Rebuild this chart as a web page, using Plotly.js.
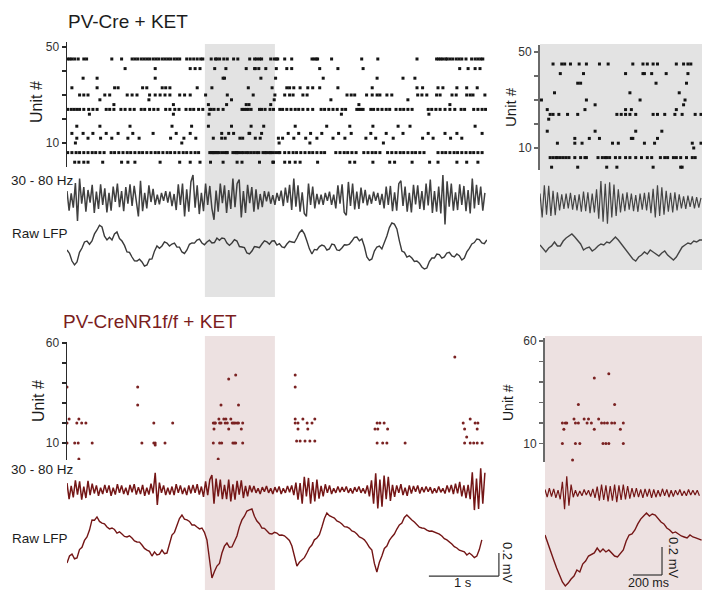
<!DOCTYPE html>
<html><head><meta charset="utf-8">
<script src="https://cdn.plot.ly/plotly-3.0.1.min.js"></script>
<style>html,body{margin:0;padding:0;background:#fff}#chart{width:702px;height:590px}</style>
</head><body><div id="chart"></div>
<script>
// ---------------- DATA ----------------
// PV-Cre + KET : spike raster (unit number, spike times in s)
const pvUnits = [45,41,37,33,30,28,26,24,22,17,14,12,10,6,2];
const pvSpikes = [
 [0.04,0.07,0.10,0.14,0.19,0.27,0.31,0.67,0.81,0.96,1.00,1.04,1.09,1.13,1.17,1.21,1.26,1.30,1.34,1.39,1.43,1.47,1.51,1.56,1.60,1.64,1.74,1.79,1.84,1.89,1.94,1.97,2.09,2.15,2.17,2.21,2.27,2.32,2.41,2.47,2.64,2.71,2.74,2.78,2.81,2.94,2.99,3.02,3.04,3.14,3.24,3.53,3.56,3.59,3.61,3.81,4.24,4.47,5.03,5.31,5.34,5.37,5.40,5.44,5.46,5.50,5.54,5.59,5.63,5.67,5.73,5.81,5.86,5.90,5.94,5.97],
 [0.86,1.29,1.79,1.86,1.93,2.14,2.30,2.59,2.71,2.72,2.77,2.87,3.02,3.17,3.24,3.64,3.90,4.26,5.64,5.76,5.86,5.93],
 [0.26,0.46,1.29,2.26,2.28,2.80,3.01,3.69,4.46,4.83,5.00],
 [0.10,0.46,0.71,0.76,1.11,1.17,1.39,1.44,1.50,1.89,2.10,2.62,2.96,3.17,3.21,3.27,3.36,3.47,3.54,3.64,3.90,4.39,5.03,5.11,5.33,5.40,5.60,5.74,5.89],
 [0.21,0.27,0.33,0.57,0.64,0.89,0.96,1.03,1.21,1.29,1.36,1.43,1.50,1.64,1.71,1.79,2.01,2.32,2.69,3.00,3.14,3.21,3.26,3.40,3.46,4.03,4.09,4.14,4.31,4.39,4.46,4.50,4.60,4.67,5.04,5.10,5.17,5.31,5.36,5.53,5.59,5.74,5.79,5.83,6.00],
 [0.50,1.20,2.38,2.99,3.80,4.90],
 [0.70,1.55,2.05,2.31,2.59,2.63,2.94,4.20,5.50],
 [0.04,0.09,0.13,0.17,0.21,0.27,0.34,0.40,0.46,0.59,0.64,0.70,0.80,0.86,0.93,0.99,1.09,1.14,1.21,1.27,1.33,1.44,1.50,1.57,1.63,1.73,1.79,1.84,1.91,1.97,2.07,2.09,2.13,2.19,2.26,2.53,2.56,2.59,2.62,2.66,2.78,2.81,2.86,2.93,2.98,3.07,3.11,3.17,3.23,3.29,3.34,3.40,3.47,3.54,3.66,3.71,3.77,3.83,3.89,3.96,4.01,4.17,4.20,4.23,4.26,4.37,4.41,4.47,4.53,4.59,4.64,4.73,4.79,4.84,4.90,4.96,5.19,5.24,5.30,5.36,5.43,5.50,5.57,5.66,5.71,5.84,5.90,5.96,6.01],
 [0.35,1.55,2.06,3.95,5.20],
 [0.17,0.50,0.93,1.53,1.81,2.05,2.38,2.66,2.84,3.29,3.74,4.07,4.40,4.76,4.93,5.86],
 [0.10,0.26,0.40,0.59,0.76,0.97,1.26,1.59,1.79,2.24,2.34,2.41,2.63,2.64,2.81,3.19,3.34,3.51,3.67,3.91,4.09,4.37,4.59,4.83,5.19,5.43,5.60,5.96],
 [0.17,0.33,0.51,0.67,0.90,1.06,1.51,1.70,1.87,2.12,2.24,2.29,2.50,2.54,2.72,2.79,3.05,3.11,3.27,3.44,3.60,3.83,4.00,4.30,4.44,4.69,5.11,5.26,5.51,5.67],
 [0.15,1.67,3.06,3.50,4.55],
 [0.04,0.10,0.16,0.21,0.27,0.33,0.39,0.44,0.50,0.56,0.66,0.71,0.77,0.83,0.89,0.94,1.00,1.06,1.11,1.17,1.23,1.29,1.34,1.40,1.46,1.51,1.57,1.63,1.69,1.74,1.80,1.86,1.91,2.07,2.09,2.11,2.12,2.14,2.16,2.18,2.20,2.24,2.28,2.31,2.32,2.40,2.43,2.45,2.46,2.48,2.52,2.55,2.59,2.62,2.66,2.70,2.74,2.77,2.83,2.86,2.88,2.92,2.94,2.97,3.01,3.05,3.07,3.14,3.20,3.26,3.31,3.37,3.43,3.49,3.54,3.60,3.66,3.71,3.87,3.93,3.99,4.04,4.10,4.16,4.27,4.33,4.39,4.44,4.50,4.61,4.67,4.73,4.79,4.84,4.90,4.96,5.01,5.07,5.13,5.33,5.39,5.44,5.50,5.56,5.61,5.67,5.73,5.79,5.84,5.90,5.96],
 [0.14,0.20,0.27,0.33,0.54,0.81,0.90,1.00,1.36,1.64,1.79,1.93,2.08,2.26,2.46,2.53,2.78,2.97,2.98,3.14,3.21,3.29,3.36,3.61,4.07,4.14,4.40,4.64,4.71,4.96,5.21,5.33,5.60,5.74,5.90]
];
// PV-Cre + KET : 30-80 Hz band (uV), whole record, step 0.03 s
const pvGammaStart = 0.03, pvGammaStep = 0.03;
const pvGamma = [60,-110,40,-85,130,-200,170,-50,95,-120,70,-40,115,-130,55,-95,120,-60,85,-125,
 45,-110,100,-35,125,-80,60,-115,95,-50,120,-70,105,-40,-160,150,-115,45,-90,110,
 -35,80,-60,30,-55,45,-25,60,-40,55,-70,35,-105,120,-60,125,-160,75,-120,140,
 200,-85,110,-140,45,-115,125,-60,105,-90,-190,65,-120,125,-45,110,-130,70,-95,170,
 -80,125,160,-170,60,-130,115,-45,95,-120,75,-100,35,-80,60,-30,55,-50,25,-60,
 45,-25,65,-70,90,-40,115,-105,170,-75,110,-120,50,-135,-160,125,-60,100,-90,35,
 -55,30,-60,45,-25,55,-60,30,-90,110,-50,120,-125,-150,140,-70,125,-100,55,-95,
 90,-45,70,-65,30,-50,55,-25,45,-60,35,-90,100,-60,105,-115,50,-110,125,150,
 -70,100,-120,45,-125,115,-55,110,-95,60,-105,125,-65,160,-130,60,-120,100,-135,200,
 -230,145,-75,125,-110,50,-105,120,-60,105,-115,70,-135,170,-90,115,-60,100,-110,45];
// PV-Cre + KET : raw LFP (uV), whole record, step 0.0357 s
const pvLfpStart = 0.03, pvLfpStep = 0.0357;
const pvLfp = [0,-30, -96,-130, -104,-20, 17,70, 78,50, 78,140, 174,215, 200,120, 87,110, 87,140,
 157,100, 78,40, -17,-20, -61,-95, -96,-80, -104,-140, -130,-80, -78,-10, 35,15, 35,70,
 61,35, 52,60, 26,25, -17,-30, 0,50, 61,60, 87,95, 61,45, 70,85, 61,65,
 104,85, 104,100, 61,40, 61,90, 78,30, 26,20, -26,-35, -9,30, 26,20, 52,80,
 70,50, 78,80, 43,55, 26,20, 52,75, 70,65, 104,150, 174,140, 78,10, -35,5,
 0,30, 43,35, 0,10, 52,45, 0,-5, 17,45, 43,50, 78,110, 113,80, 96,30,
 -61,-90, -78,-10, 26,35, 9,60, 122,195, 235,225, 183,80, -9,-20, -61,-50, -70,-100,
 -96,-115, -148,-165, -157,-100, -70,-70, -35,-40, -70,-60, -26,-20, -52,-60, -35,-50, -87,-70,
 -17,15, 52,65, 96,90, 61,55, 87];
// PV-Cre + KET : zoomed 2-3 s traces
const pvGammaZoomStart = 2.0, pvGammaZoomStep = 0.015;
const pvGammaZoom = [60,-110,120,-90,115,-100,80,-95,70,-60,55,-50,60,-45,65,-55,50,-60,55,-70,
 75,-65,70,-80,60,-75,90,-120,150,-140,130,-155,140,-110,125,-100,90,-75,60,-65,
 70,-55,60,-65,50,-70,60,-55,65,-60,70,-80,95,-110,120,-100,105,-90,80,-70,
 65,-75,70,-60,55,-45,40,-50,45,-35,40,-45,35,-40,30];
const pvLfpZoomStart = 2.0, pvLfpZoomStep = 0.02;
const pvLfpZoom = [36,7,-14,14,29,57,29,29,64,86,100,114,93,71,43,0,14,21,-7,7,
 29,43,36,57,50,71,93,71,43,14,-14,-43,-64,-79,-50,-36,-14,-29,0,-14,
 -29,-43,-21,-7,-36,-57,-71,-50,-14,21,36,50,43,64,57,71,71];

// PV-CreNR1f/f + KET
const nrUnits = [53,44,42,38,29,22,20,17,13,11,10,9,2];
const nrSpikes = [
 [5.57],
 [2.44,3.29],
 [2.34],
 [0.03,1.04,3.29],
 [1.04,2.23,2.48],
 [0.06,0.20,2.20,2.27,2.30,2.37,3.29,3.40,3.57,5.79],
 [0.03,0.17,0.24,0.30,1.27,1.54,2.12,2.14,2.15,2.21,2.23,2.29,2.32,2.39,2.41,2.43,2.46,2.48,2.54,3.29,3.33,3.46,3.53,4.46,4.50,4.56,5.69,5.86,5.90],
 [2.13,2.34,2.52,3.33,3.47,4.43,4.47,4.61,5.71,5.89],
 [5.74],
 [3.31,3.36,3.43,3.50,3.57],
 [0.03,0.14,0.19,0.39,1.10,1.27,1.29,1.43,2.12,2.21,2.24,2.40,2.42,2.44,2.54,4.46,4.54,4.60,4.86,5.71,5.79,5.84,5.89,5.96],
 [1.29],
 [0.20,2.19]
];
const nrGammaStart = 0.03, nrGammaStep = 0.03;
const nrGamma = [60,-80,35,-65,85,-40,75,-85,30,-70,80,-45,55,-30,40,-50,20,-35,45,-25,
 40,-50,20,-40,50,-25,40,-35,20,-45,45,-20,50,-40,25,-35,45,-50,20,-40,
 55,-30,150,-130,65,-25,40,-45,20,-40,30,-45,50,-25,40,-35,20,-45,40,-30,
 45,-25,50,-40,30,-60,75,-45,90,130,-120,100,-55,90,-80,45,-80,90,-100,50,
 -85,80,-40,85,-70,35,-55,40,-20,35,-25,15,-35,25,-15,35,-25,15,-35,25,
 -20,30,-35,15,-25,35,-20,40,-45,65,-85,60,-120,115,-55,105,-120,70,-100,90,
 -75,35,-55,50,-25,40,-35,15,-25,30,-20,25,-15,30,-25,15,-30,25,-15,30,
 -25,15,-30,40,-55,85,-120,145,-160,90,-145,125,-80,115,-95,45,-60,40,-25,50,
 -45,20,-50,40,-30,35,-15,40,-30,25,-20,30,-15,25,-30,15,-25,30,-20,15,
 -30,40,-20,45,-35,55,-30,70,-55,40,-70,45,-80,155,-175,100,-165,190,-120,150];
const nrLfpStart = 0.03, nrLfpStep = 0.0357;
const nrLfp = [-157,-95, -78,-120, -113,-40, -20,40, 70,130, 218,215, 244,205, 191,185, 157,140, 148,135,
 104,115, 96,75, 70,80, 61,35, 26,25, 0,-30, -44,-55, -96,-60, -87,-80, -44,-75,
 -70,20, 87,110, 174,230, 261,225, 218,205, 174,175, 157,140, 148,110, 44,-140, -287,-230,
 -183,-160, -70,-10, 17,-20, -17,30, 78,160, 218,250, 296,305, 313,250, 209,185, 148,145,
 122,100, 96,110, 104,85, 87,80, 61,40, -9,-110, -183,-150, -130,-110, -70,-25, 0,45,
 61,90, 157,230, 278,255, 244,235, 209,200, 183,160, 157,145, 122,115, 96,70, 61,45,
 17,-20, -44,-160, -235,-150, -96,-30, -9,40, 70,95, 139,175, 191,240, 261,235, 218,200,
 174,155, 148,145, 130,120, 122,115, 104,95, 78,55, 44,30, 9,-15, -26,-45, -52,-60,
 -87,-70, -87,-110, -96,-40, 44];
const nrGammaZoomStart = 2.0, nrGammaZoomStep = 0.015;
const nrGammaZoom = [25,-30,35,-25,30,-35,20,-45,80,-115,120,-90,60,-30,20,-25,15,-20,25,-15,
 20,-25,30,-35,45,-55,60,-50,55,-60,50,-55,60,-65,55,-50,60,-45,50,-40,
 35,-30,35,-30,25,-35,30,-25,30,-35,25,-30,20,-25,30,-20,25,-30,20,-25,
 20,-15,25,-20,15,-20,25,-15,20,-15,20,-20];
const nrLfpZoomStart = 2.0, nrLfpZoomStep = 0.02;
const nrLfpZoom = [107,43,-14,-71,-129,-186,-228,-257,-236,-207,-186,-143,-157,-100,-79,-43,-29,-21,14,-14,
 7,-14,0,-21,-43,-50,-21,0,64,107,114,143,186,221,243,264,243,257,250,221,
 200,186,157,143,121,129,114,100,93,86,107,93,86,79,71];

const shadeWindow = [2.0, 3.0];      // s, highlighted window
const scaleTimeLong = 1.0;           // s
const scaleTimeShort = 0.2;          // s
const scaleVolt = 200;               // uV

// ---------------- DRAWING ----------------
const W = 702, H = 590;
const PX = p => p / W;
const PY = p => 1 - p / H;
const FONT = '"Liberation Sans", Arial, Helvetica, sans-serif';
const DARK = '#1c1c1c';
const RED = '#741616';
const RED_DOT = '#7a2222';

function raster(units, spikes, xa, ya, color, size, symbol) {
  const x = [], y = [];
  units.forEach((u, i) => spikes[i].forEach(t => { x.push(t); y.push(u); }));
  return {type: 'scatter', mode: 'markers', x, y, xaxis: xa, yaxis: ya, hoverinfo: 'skip',
    marker: {color, size, symbol, line: {width: 0}}};
}
function trace(y, x0, dx, xa, ya, color, width) {
  return {type: 'scatter', mode: 'lines', y, x0, dx, xaxis: xa, yaxis: ya, hoverinfo: 'skip',
    line: {color, width}};
}

const data = [
  raster(pvUnits, pvSpikes, 'x', 'y', '#141414', 3, 'square'),
  trace(pvGamma, pvGammaStart, pvGammaStep, 'x', 'y2', '#404040', 1.5),
  trace(pvLfp, pvLfpStart, pvLfpStep, 'x', 'y3', '#3a3a3a', 1.4),
  raster(pvUnits, pvSpikes, 'x2', 'y4', '#141414', 3, 'square'),
  trace(pvGammaZoom, pvGammaZoomStart, pvGammaZoomStep, 'x2', 'y5', '#444444', 1.2),
  trace(pvLfpZoom, pvLfpZoomStart, pvLfpZoomStep, 'x2', 'y6', '#444444', 1.4),
  raster(nrUnits, nrSpikes, 'x3', 'y7', RED_DOT, 3, 'circle'),
  trace(nrGamma, nrGammaStart, nrGammaStep, 'x3', 'y8', RED, 1.5),
  trace(nrLfp, nrLfpStart, nrLfpStep, 'x3', 'y9', RED, 1.4),
  raster(nrUnits, nrSpikes, 'x4', 'y10', RED_DOT, 3, 'circle'),
  trace(nrGammaZoom, nrGammaZoomStart, nrGammaZoomStep, 'x4', 'y11', RED, 1.2),
  trace(nrLfpZoom, nrLfpZoomStart, nrLfpZoomStep, 'x4', 'y12', RED, 1.4)
];

function hx(d0, d1, range, anchor) {
  return {domain: [PX(d0), PX(d1)], range, anchor, visible: false, fixedrange: true};
}
function hy(top, bottom, range, anchor) {
  return {domain: [PY(bottom), PY(top)], range, anchor, visible: false, fixedrange: true};
}
function ry(top, bottom, range, anchor, vals, texts, lc, lw) {
  return {domain: [PY(bottom), PY(top)], range, anchor, showline: true, linecolor: lc, linewidth: lw,
    ticks: 'outside', ticklen: 4, tickwidth: 1.3, tickcolor: lc, tickvals: vals, ticktext: texts,
    showgrid: false, zeroline: false, fixedrange: true,
    tickfont: {family: FONT, size: 12, color: '#333'}};
}

const layout = {
  width: W, height: H, margin: {l: 0, r: 0, t: 0, b: 0},
  paper_bgcolor: '#ffffff', plot_bgcolor: 'rgba(0,0,0,0)', showlegend: false,
  font: {family: FONT},
  xaxis: hx(67, 487, [0.03, 6.03], 'y'),
  yaxis: ry(42, 167, [0, 52.08], 'x', [10,20,30,40,50], ['10','','','','50'], '#2a2a2a', 1.4),
  yaxis2: hy(170, 226, [-244, 244], 'x'),
  yaxis3: hy(215, 285, [-304.5, 304.5], 'x'),
  xaxis2: hx(540, 702, [2.0, 3.117], 'y4'),
  yaxis4: ry(45, 170, [0.83, 52.92], 'x2', [10,20,30,40,50], ['10','','','','50'], '#6a6a6a', 2),
  yaxis5: hy(174, 230, [-200, 200], 'x2'),
  yaxis6: hy(225, 275, [-178.5, 178.5], 'x2'),
  xaxis3: hx(67, 510, [0.03, 6.3586], 'y7'),
  yaxis7: ry(342, 460, [1.5, 60.5], 'x3', [10,20,30,40,50,60], ['10','','','','','60'], '#2a2a2a', 1.4),
  yaxis8: hy(462, 518, [-244, 244], 'x3'),
  yaxis9: hy(500, 590, [-391.5, 391.5], 'x3'),
  xaxis4: hx(545, 702, [2.0, 3.0828], 'y10'),
  yaxis10: ry(338, 462, [0.976, 61.46], 'x4', [10,20,30,40,50,60], ['10','','','','','60'], '#6a6a6a', 2),
  yaxis11: hy(465, 521, [-200, 200], 'x4'),
  yaxis12: hy(505, 590, [-285.6, 321.3], 'x4'),
  shapes: [
    {type: 'rect', layer: 'below', xref: 'x', yref: 'paper', x0: shadeWindow[0], x1: shadeWindow[1],
     y0: PY(297), y1: PY(44), fillcolor: '#e3e3e3', line: {width: 0}},
    {type: 'rect', layer: 'below', xref: 'paper', yref: 'paper', x0: PX(540), x1: 1,
     y0: PY(270), y1: PY(44), fillcolor: '#e3e3e3', line: {width: 0}},
    {type: 'rect', layer: 'below', xref: 'x3', yref: 'paper', x0: shadeWindow[0], x1: shadeWindow[1],
     y0: 0, y1: PY(336), fillcolor: '#ede1e1', line: {width: 0}},
    {type: 'rect', layer: 'below', xref: 'paper', yref: 'paper', x0: PX(545), x1: 1,
     y0: 0, y1: PY(336), fillcolor: '#ede1e1', line: {width: 0}},
    // scale bars
    {type: 'line', xref: 'x3', yref: 'y9', x0: 6.2 - scaleTimeLong, x1: 6.2, y0: -270, y1: -270, line: {color: '#333', width: 1.2}},
    {type: 'line', xref: 'x3', yref: 'y9', x0: 6.2, x1: 6.2, y0: -270, y1: -270 + scaleVolt, line: {color: '#333', width: 1.2}},
    {type: 'line', xref: 'x4', yref: 'y12', x0: 2.807 - scaleTimeShort, x1: 2.807, y0: -178.5, y1: -178.5, line: {color: '#333', width: 1.2}},
    {type: 'line', xref: 'x4', yref: 'y12', x0: 2.807, x1: 2.807, y0: -178.5, y1: -178.5 + scaleVolt, line: {color: '#333', width: 1.2}}
  ],
  annotations: [
    {text: 'PV-Cre + KET', x: PX(66), y: PY(22), xanchor: 'left', font: {size: 19, color: DARK}},
    {text: 'PV-CreNR1f/f + KET', x: PX(61), y: PY(322), xanchor: 'left', font: {size: 19, color: '#7b1d1d'}},
    {text: 'Unit #', x: PX(37), y: PY(102), textangle: -90, font: {size: 16, color: DARK}},
    {text: 'Unit #', x: PX(510), y: PY(107), textangle: -90, font: {size: 15, color: DARK}},
    {text: 'Unit #', x: PX(38), y: PY(401), textangle: -90, font: {size: 16, color: DARK}},
    {text: 'Unit #', x: PX(508), y: PY(403), textangle: -90, font: {size: 14, color: DARK}},
    {text: '30 - 80 Hz', x: PX(9), y: PY(180), xanchor: 'left', font: {size: 13.5, color: DARK}},
    {text: 'Raw LFP', x: PX(10), y: PY(233), xanchor: 'left', font: {size: 13.5, color: DARK}},
    {text: '30 - 80 Hz', x: PX(9), y: PY(469), xanchor: 'left', font: {size: 13.5, color: DARK}},
    {text: 'Raw LFP', x: PX(10), y: PY(538), xanchor: 'left', font: {size: 13.5, color: DARK}},
    {text: '1 s', x: PX(463), y: PY(582), font: {size: 13, color: DARK}},
    {text: '0.2 mV', x: PX(508), y: PY(563), textangle: 90, font: {size: 13, color: DARK}},
    {text: '200 ms', x: PX(648), y: PY(583), font: {size: 12.5, color: DARK}},
    {text: '0.2 mV', x: PX(674), y: PY(558), textangle: 90, font: {size: 13, color: DARK}}
  ].map(a => Object.assign({xref: 'paper', yref: 'paper', showarrow: false, xanchor: 'center', yanchor: 'middle'}, a,
        {font: Object.assign({family: FONT}, a.font)}))
};

Plotly.newPlot('chart', data, layout, {staticPlot: true, displayModeBar: false});
</script></body></html>
